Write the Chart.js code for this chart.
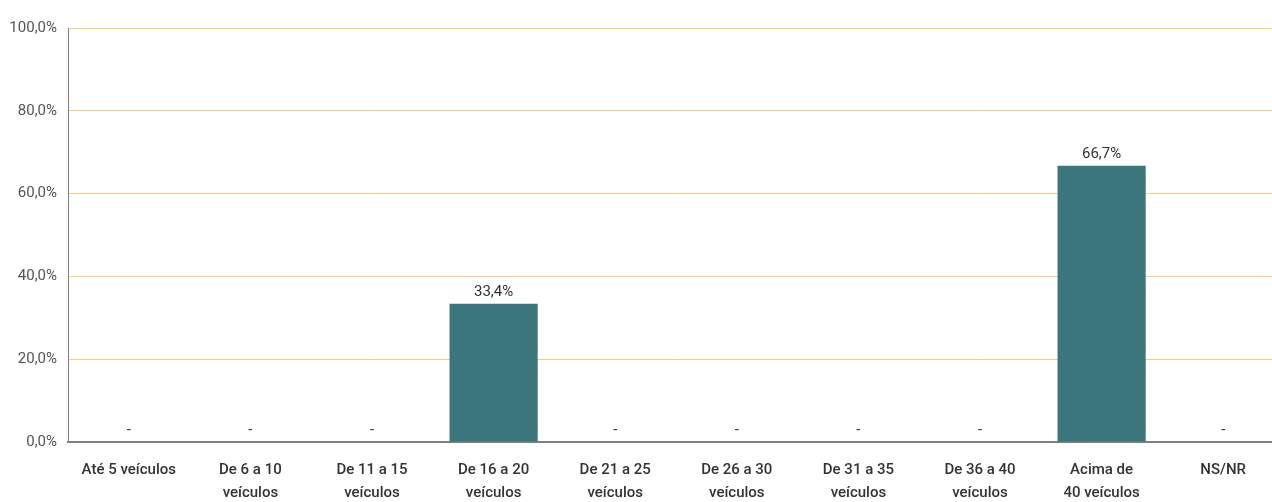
<!DOCTYPE html>
<html lang="pt">
  <head>
    <meta charset="UTF-8" />
    <title>Frota por faixa</title>
    <script src="https://cdn.jsdelivr.net/npm/chart.js"></script>
    <style>
      body {
        margin: 0;
        background: #ffffff;
        overflow: hidden;
      }
      .wrap {
        width: 1284px;
        height: 502px;
      }
    </style>
  </head>
  <body>
    <div class="wrap"><canvas id="chart"></canvas></div>
    <script>
      const categories = [
        ["Até 5 veículos"],
        ["De 6 a 10", "veículos"],
        ["De 11 a 15", "veículos"],
        ["De 16 a 20", "veículos"],
        ["De 21 a 25", "veículos"],
        ["De 26 a 30", "veículos"],
        ["De 31 a 35", "veículos"],
        ["De 36 a 40", "veículos"],
        ["Acima de", "40 veículos"],
        ["NS/NR"],
      ];
      const values = [0, 0, 0, 33.4, 0, 0, 0, 0, 66.7, 0];
      const yTicks = [0, 20, 40, 60, 80, 100];

      const fontFamily = "Roboto, 'Noto Sans', sans-serif";

      const fmt = (v) => v.toFixed(1).replace(".", ",") + "%";

      // bar value on top, "-" for empty categories
      const valueLabels = {
        id: "valueLabels",
        afterDatasetsDraw(chart) {
          const ctx = chart.ctx;
          const meta = chart.getDatasetMeta(0);
          ctx.save();
          ctx.font = "15px " + fontFamily;
          ctx.fillStyle = "#333";
          ctx.textAlign = "center";
          ctx.textBaseline = "bottom";
          meta.data.forEach((bar, i) => {
            const v = values[i];
            const text = v === 0 ? "-" : fmt(v);
            ctx.fillText(text, bar.x, bar.y - 4);
          });
          ctx.restore();
        },
      };

      new Chart(document.getElementById("chart"), {
        type: "bar",
        data: {
          labels: categories,
          datasets: [
            {
              data: values,
              backgroundColor: "#3b767d",
              categoryPercentage: 1,
              barPercentage: 0.725,
            },
          ],
        },
        options: {
          responsive: true,
          maintainAspectRatio: false,
          animation: false,
          layout: { padding: { top: 28, left: 0, right: 0, bottom: -19 } },
          plugins: { legend: { display: false }, tooltip: { enabled: false } },
          scales: {
            x: {
              grid: { display: false, drawTicks: false },
              border: { color: "#808080", width: 2 },
              ticks: {
                color: "#333",
                font: { family: fontFamily, size: 15, weight: "500", lineHeight: 1.5 },
                padding: 17,
                maxRotation: 0,
                autoSkip: false,
              },
            },
            y: {
              min: 0,
              max: 100,
              afterBuildTicks: (axis) => {
                axis.ticks = yTicks.map((v) => ({ value: v }));
              },
              grid: { color: "#f9cf6e", drawTicks: false, lineWidth: 1 },
              border: { color: "#808080", width: 1 },
              afterFit: (axis) => {
                axis.width = 68;
              },
              ticks: {
                color: "#555",
                font: { family: fontFamily, size: 15 },
                padding: 11,
                callback: (v) => fmt(v),
              },
            },
          },
        },
        plugins: [valueLabels],
      });
    </script>
  </body>
</html>
